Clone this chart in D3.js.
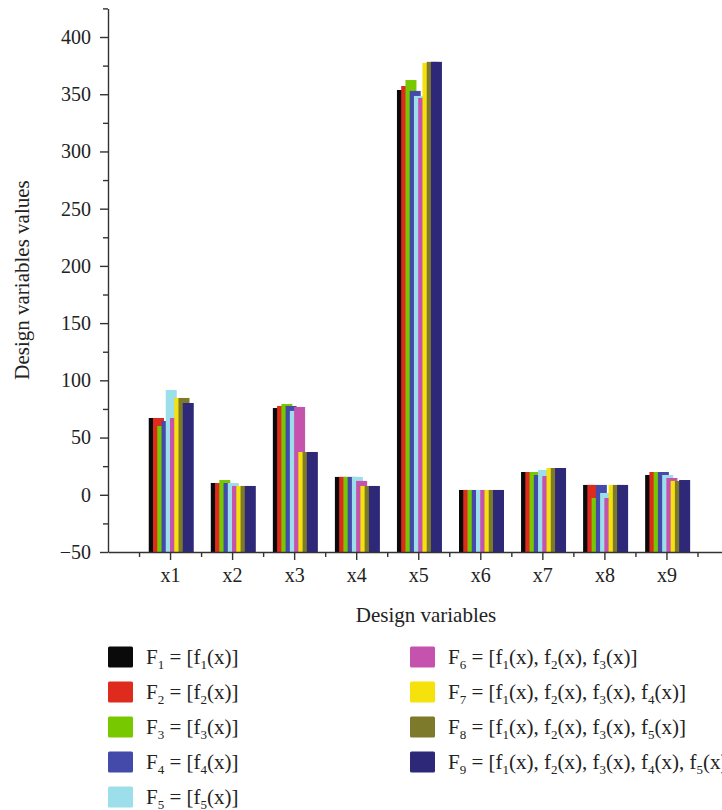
<!DOCTYPE html>
<html>
<head>
<meta charset="utf-8">
<script src="https://cdn.jsdelivr.net/npm/d3@7"></script>
<style>
  body { margin: 0; background: #fff; }
  svg { display: block; font-family: "Liberation Serif", "DejaVu Serif", serif; }
  .axis path, .axis line { stroke: #333; stroke-width: 1.4; }
  .axis text { font-family: "Liberation Serif", serif; font-size: 20px; fill: #222; }
</style>
</head>
<body>
<svg id="chart" width="722" height="810"></svg>
<script>
const categories = ["x1", "x2", "x3", "x4", "x5", "x6", "x7", "x8", "x9"]

// one array per objective combination, values per design variable
const F1 = [67.1, 10.3, 75.8, 15.6, 353.7, 4.2, 19.9, 8.6, 17.3]
const F2 = [67.1, 10.3, 77.6, 15.6, 357.2, 4.2, 19.9, 8.6, 19.9]
const F3 = [60.1, 12.9, 79.3, 15.6, 362.4, 4.2, 19.9, -2.8, 19.9]
const F4 = [64.5, 10.3, 77.6, 15.6, 352.9, 4.2, 17.3, 8.6, 19.9]
const F5 = [91.6, 10.3, 73.3, 15.6, 348.5, 4.2, 21.7, 1.6, 17.3]
const F6 = [67.1, 7.7, 76.7, 12.1, 346.8, 4.2, 16.4, -2.8, 14.7]
const F7 = [84.6, 7.7, 37.4, 7.7, 377.4, 4.2, 23.4, 8.6, 12.1]
const F8 = [84.6, 7.7, 37.4, 7.7, 378.3, 4.2, 23.4, 8.6, 12.1]
const F9 = [80.2, 7.7, 37.4, 7.7, 378.3, 4.2, 23.4, 8.6, 12.9]

// which f_k(x) each F_i combines
const legendTerms = [[1], [2], [3], [4], [5], [1, 2, 3], [1, 2, 3, 4], [1, 2, 3, 5], [1, 2, 3, 4, 5]]
const colours = ["#0a0a0a", "#df2a1e", "#78c800", "#434aa9", "#9cdee9", "#c552ad", "#f5e10c", "#7e7a2b", "#2e2878"]

const yTicks = [-50, 0, 50, 100, 150, 200, 250, 300, 350, 400]

const series = [F1, F2, F3, F4, F5, F6, F7, F8, F9]

const svg = d3.select("#chart")
svg.append("rect").attr("width", 722).attr("height", 810).attr("fill", "#fff")

const left = 108
const bottom = 552

const x = d3.scaleLinear().domain([0, 10]).range([left, 728.5])
const y = d3.scaleLinear().domain([-50, 425]).range([bottom, 8.4])
// offset of each series bar inside a group (bars overlap, later ones on top)
const offset = d3.scaleLinear().domain([0, 8]).range([-21.3, 12.7])
const barWidth = 11

const bars = svg.append("g")
series.forEach((values, si) => {
    bars.append("g")
        .selectAll("rect")
        .data(values)
        .join("rect")
        .attr("x", (d, i) => x(i + 1) + offset(si))
        .attr("y", (d) => y(d))
        .attr("width", barWidth)
        .attr("height", (d) => y(-50) - y(d))
        .attr("fill", colours[si])
})

// y axis
svg.append("g")
    .attr("class", "axis")
    .attr("transform", `translate(${left},0)`)
    .call(d3.axisLeft(y).tickValues(yTicks).tickSize(8).tickPadding(9).tickSizeOuter(0))
svg.append("g")
    .attr("class", "axis")
    .attr("transform", `translate(${left},0)`)
    .call(d3.axisLeft(y).tickValues(d3.range(-25, 426, 50)).tickSize(5).tickFormat("").tickSizeOuter(0))
    .call((g) => g.select(".domain").remove())

// x axis
svg.append("g")
    .attr("class", "axis")
    .attr("transform", `translate(0,${bottom})`)
    .call(d3.axisBottom(x).tickValues(d3.range(1, 10)).tickFormat((d) => categories[d - 1]).tickSize(8).tickPadding(8).tickSizeOuter(0))
svg.append("g")
    .attr("class", "axis")
    .attr("transform", `translate(0,${bottom})`)
    .call(d3.axisBottom(x).tickValues(d3.range(0.5, 10, 1)).tickSize(5).tickFormat("").tickSizeOuter(0))
    .call((g) => g.select(".domain").remove())

svg.append("text")
    .attr("x", 426)
    .attr("y", 622)
    .attr("text-anchor", "middle")
    .attr("font-size", 21)
    .attr("fill", "#222")
    .text("Design variables")

svg.append("text")
    .attr("transform", "translate(29,280) rotate(-90)")
    .attr("text-anchor", "middle")
    .attr("font-size", 21)
    .attr("fill", "#222")
    .text("Design variables values")

// legend
const legend = svg.append("g")
legendTerms.forEach((terms, i) => {
    const col = i < 5 ? 0 : 1
    const row = i < 5 ? i : i - 5
    const gx = col === 0 ? 108 : 410
    const gy = 657 + row * 35
    const item = legend.append("g").attr("transform", `translate(${gx},${gy})`)
    item.append("rect")
        .attr("x", 0).attr("y", -10.5)
        .attr("width", 25).attr("height", 21)
        .attr("rx", 1.5)
        .attr("fill", colours[i])

    // segments: [text, isSubscript]
    const parts = [["F", false], [String(i + 1), true], [" = [", false]]
    terms.forEach((k, j) => {
        parts.push([(j ? ", " : "") + "f", false])
        parts.push([String(k), true])
        parts.push(["(x)", false])
    })
    parts.push(["]", false])

    const t = item.append("text")
        .attr("x", 38).attr("y", 7)
        .attr("font-size", 21)
        .attr("fill", "#222")
    let shifted = false
    parts.forEach(([str, isSub]) => {
        const dy = isSub === shifted ? 0 : isSub ? 5 : -5
        t.append("tspan")
            .attr("dy", dy)
            .attr("font-size", isSub ? 13 : 21)
            .text(str)
        shifted = isSub
    })
})
</script>
</body>
</html>
